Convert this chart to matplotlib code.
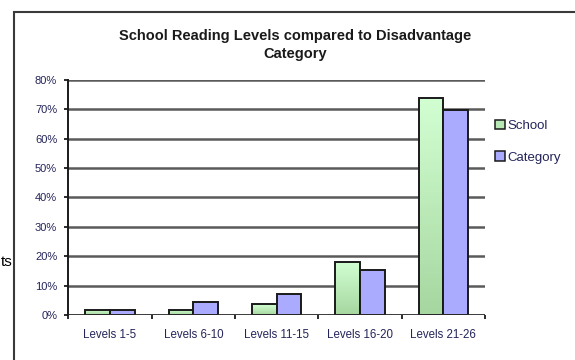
"""Grouped bar chart: school reading levels vs. disadvantage category."""

import matplotlib.pyplot as plt
import numpy as np
from matplotlib.colors import LinearSegmentedColormap
from matplotlib.patches import Patch, Rectangle

OUT_PATH = "out.png"

levels = ["Levels 1-5", "Levels 6-10", "Levels 11-15", "Levels 16-20", "Levels 21-26"]
school = [1.8, 1.8, 3.7, 18.2, 73.9]
category = [1.8, 4.5, 7.2, 15.3, 69.9]
y_ticks = [0, 10, 20, 30, 40, 50, 60, 70, 80]

GREEN_TOP = "#d2ffd2"
GREEN_BOTTOM = "#a6d7a0"
BLUE = "#aaaaff"
TEXT = "#24245a"
GRID = "#5a5a5a"


def shade_bars(ax, bars, top, bottom):
    cmap = LinearSegmentedColormap.from_list("bar_shade", [bottom, top])
    grad = np.linspace(0, 1, 64).reshape(-1, 1)
    for bar in bars:
        x, y = bar.get_x(), bar.get_y()
        w, h = bar.get_width(), bar.get_height()
        img = ax.imshow(grad, cmap=cmap, origin="lower", aspect="auto",
                        extent=(x, x + w, y, y + h), zorder=bar.get_zorder() - 0.1)
        img.set_clip_path(bar)


def main() -> None:
    plt.rcParams["font.family"] = ["Liberation Sans", "DejaVu Sans"]

    fig = plt.figure(figsize=(5.75, 3.6), dpi=100)
    ax = fig.add_axes([0.1188, 0.125, 0.7247, 0.6528])

    x = np.arange(len(levels))
    w = 0.295
    bars_s = ax.bar(x - w / 2, school, w, facecolor="none", edgecolor="#1a1a1a",
                    linewidth=1.4, zorder=3)
    ax.bar(x + w / 2, category, w, facecolor=BLUE, edgecolor="#1a1a1a",
           linewidth=1.4, zorder=3)
    shade_bars(ax, bars_s, GREEN_TOP, GREEN_BOTTOM)

    ax.set_xlim(-0.5, len(levels) - 0.5)
    ax.set_ylim(0, 80)
    ax.set_yticks(y_ticks)
    ax.set_yticklabels([f"{v}%" for v in y_ticks])
    ax.set_xticks(x)
    ax.set_xticklabels(levels)
    ax.set_xticks(np.arange(-0.5, len(levels)), minor=True)

    ax.yaxis.grid(True, color=GRID, linewidth=1.8, zorder=1)
    ax.set_axisbelow(True)
    for side in ("top", "right", "bottom"):
        ax.spines[side].set_visible(False)
    ax.spines["left"].set_color("#1a1a1a")
    ax.spines["left"].set_linewidth(1.4)
    ax.axhline(0, color="#2a2a2a", linewidth=1.8, zorder=4)

    ax.tick_params(axis="y", length=3, width=1.3, color="#1a1a1a", pad=5,
                   labelsize=8, labelcolor=TEXT)
    ax.tick_params(axis="x", which="major", length=0, pad=10,
                   labelsize=8.3, labelcolor=TEXT)
    ax.tick_params(axis="x", which="minor", length=3, width=1.3, color="#1a1a1a")

    fig.text(0.513, 1 - 45 / 360, "School Reading Levels compared to Disadvantage\nCategory",
             ha="center", va="center", fontsize=10.5, fontweight="bold",
             color="#1a1a1a", linespacing=1.45)

    handles = [Patch(facecolor="#b8e8b4", edgecolor="#1a1a1a", linewidth=1.1),
               Patch(facecolor=BLUE, edgecolor="#1a1a1a", linewidth=1.1)]
    fig.legend(handles, ["School", "Category"], loc="upper left",
               bbox_to_anchor=(492 / 575, 1 - 117 / 360), frameon=False,
               fontsize=9.5, labelcolor=TEXT, handlelength=0.75, handleheight=0.75,
               handletextpad=0.2, labelspacing=1.45, borderaxespad=0, borderpad=0.2)

    # outer frame of the chart, running off the right and bottom edges
    fig.patches.append(Rectangle((14 / 575, -0.2), 1.2, 1.2 - 11.7 / 360,
                                 transform=fig.transFigure, fill=False,
                                 edgecolor="#3a3a3a", linewidth=1.5))

    fig.text(0.5 / 575, 1 - 262 / 360, "ts", ha="left", va="center",
             fontsize=11, color="black")

    fig.savefig(OUT_PATH, dpi=100)


if __name__ == "__main__":
    main()
